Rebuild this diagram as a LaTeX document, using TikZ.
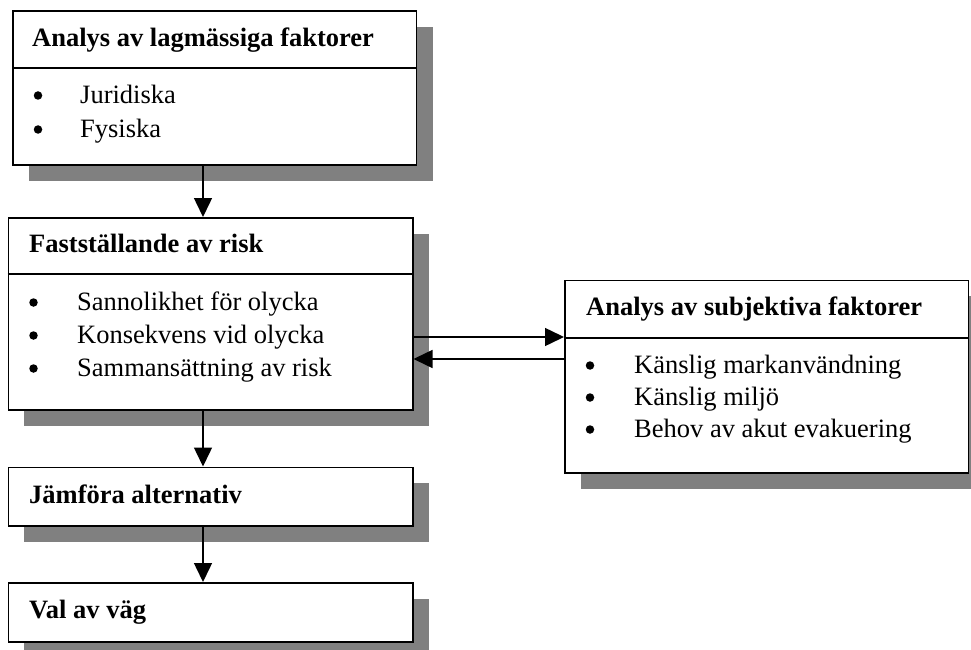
\documentclass[tikz,border=0pt]{standalone}
\usepackage{fontspec}
\setmainfont{Liberation Serif}
\usetikzlibrary{arrows.meta,shadows}
\definecolor{shadowgray}{HTML}{808080}
\newcommand{\boxfont}{\fontsize{26.5}{33}\selectfont}
\begin{document}
\begin{tikzpicture}[x=1pt,y=-1pt,
  box/.style={draw, line width=1.8pt, fill=white, inner sep=0pt, anchor=north west,
    drop shadow={shadow xshift=16pt, shadow yshift=-16pt, fill=shadowgray, opacity=1}},
  divider/.style={line width=1.8pt},
  head/.style={anchor=base west, inner sep=0pt, font=\boxfont\bfseries},
  item/.style={anchor=base west, inner sep=0pt, font=\boxfont},
  dot/.style={circle, fill=black, inner sep=0pt, minimum size=8.5pt},
  arr/.style={line width=1.5pt, -{Triangle[length=19pt,width=18pt]}}]
\clip (0,0) rectangle (971,650);
\fill[white] (0,0) rectangle (971,650);

% legal factors
\node[box, minimum width=403.6pt, minimum height=154pt] (b1) at (12,10) {};
\draw[divider] (b1.west |- 0,68) -- (b1.east |- 0,68);
\node[head] (h1) at (32,47) {Analys av lagmässiga faktorer};
\node[dot] (d11) at (38,95.5) {};
\node[item] (t11) at (80,103) {Juridiska};
\node[dot] (d12) at (38,129.5) {};
\node[item] (t12) at (80,137) {Fysiska};

% risk assessment
\node[box, minimum width=404.2pt, minimum height=192pt] (b2) at (7.5,217) {};
\draw[divider] (b2.west |- 0,274) -- (b2.east |- 0,274);
\node[head] (h2) at (29,252) {Fastställande av risk};
\node[dot] (d21) at (33.5,302.5) {};
\node[item] (t21) at (77,310) {Sannolikhet för olycka};
\node[dot] (d22) at (33.5,335.5) {};
\node[item] (t22) at (77,343) {Konsekvens vid olycka};
\node[dot] (d23) at (33.5,368.5) {};
\node[item] (t23) at (77,376) {Sammansättning av risk};

% subjective factors
\node[box, minimum width=403.5pt, minimum height=192.5pt] (b3) at (564,279.5) {};
\draw[divider] (b3.west |- 0,338) -- (b3.east |- 0,338);
\node[head] (h3) at (586,315) {Analys av subjektiva faktorer};
\node[dot] (d31) at (590,365.5) {};
\node[item] (t31) at (634,373) {Känslig markanvändning};
\node[dot] (d32) at (590,397.5) {};
\node[item] (t32) at (634,405) {Känslig miljö};
\node[dot] (d33) at (590,429.5) {};
\node[item] (t33) at (634,437) {Behov av akut evakuering};

% comparison and choice
\node[box, minimum width=404.2pt, minimum height=58.5pt] (b4) at (7.5,466.5) {};
\node[head] (h4) at (29,503) {Jämföra alternativ};
\node[box, minimum width=404.2pt, minimum height=59pt] (b5) at (7.5,582) {};
\node[head] (h5) at (29,618) {Val av väg};

% connectors
\coordinate (ax) at (203,0);
\coordinate (ay1) at (0,337);
\coordinate (ay2) at (0,359);
\draw[arr] (b1.south -| ax) -- (b2.north -| ax);
\draw[arr] (b2.south -| ax) -- (b4.north -| ax);
\draw[arr] (b4.south -| ax) -- (b5.north -| ax);
\draw[arr] (b2.east |- ay1) -- (b3.west |- ay1);
\draw[arr] (b3.west |- ay2) -- (b2.east |- ay2);
\end{tikzpicture}
\end{document}
